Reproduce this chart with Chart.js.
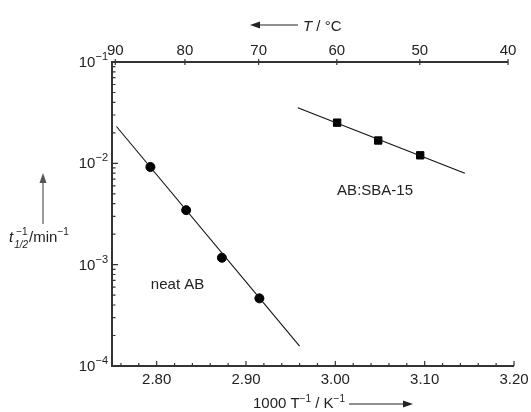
<!DOCTYPE html>
<html><head><meta charset="utf-8">
<script src="https://cdn.jsdelivr.net/npm/chart.js@4.4.1/dist/chart.umd.min.js"></script>
<style>html,body{margin:0;padding:0;background:#fff;}#wrap{width:531px;height:412px;position:relative;}</style>
</head><body><div id="wrap"><canvas id="c" width="531" height="412"></canvas></div>
<script>
// ---- data ----
const neatX = [2.793, 2.833, 2.873, 2.915];          // 1000/T, K^-1  (85, 80, 75, 70 °C)
const neatY = [0.0092, 0.00345, 0.00117, 0.000465];  // t1/2^-1, min^-1
const sbaX = [3.002, 3.048, 3.095];                  // (60, 55, 50 °C)
const sbaY = [0.0252, 0.0168, 0.0120];
const neatFitX = [2.755, 2.960];
const neatFitY = [0.0231, 0.000157];
const sbaFitX = [2.958, 3.145];
const sbaFitY = [0.0354, 0.00798];
const seriesNames = ['neat AB', 'AB:SBA-15'];
// ---- tick labels ----
const xTickLabels = [2.80, 2.90, 3.00, 3.10, 3.20];
const topTickLabels = [90, 80, 70, 60, 50, 40];      // °C
const yTickBase = '10';
const yTickExponents = ['−4', '−3', '−2', '−1'];
const yDecades = [-4, -3, -2, -1];

const FONT = "'Liberation Sans', Arial, Helvetica, sans-serif";
const TXT = '#222';

function pts(xs, ys) { return xs.map((x, i) => ({x: x, y: ys[i]})); }

const decor = {
  id: 'decor',
  afterDraw(chart) {
    const ctx = chart.ctx, a = chart.chartArea;
    const xs = chart.scales.x, xt = chart.scales.xTop, ys = chart.scales.y;
    ctx.save();
    // axis lines
    ctx.strokeStyle = '#333'; ctx.lineWidth = 2;
    const topEnd = xt.getPixelForValue(xt.ticks[xt.ticks.length - 1].value);
    ctx.beginPath();
    ctx.moveTo(topEnd, a.top); ctx.lineTo(a.left, a.top);
    ctx.lineTo(a.left, a.bottom); ctx.lineTo(a.right, a.bottom);
    ctx.stroke();
    // tick marks (inward)
    ctx.lineWidth = 1.2;
    ctx.beginPath();
    ys.ticks.forEach(t => {
      const y = ys.getPixelForValue(t.value);
      const major = Math.abs(Math.log10(t.value) - Math.round(Math.log10(t.value))) < 1e-9;
      ctx.moveTo(a.left, y); ctx.lineTo(a.left + (major ? 6 : 3.5), y);
    });
    xs.ticks.forEach(t => {
      const x = xs.getPixelForValue(t.value);
      const major = xTickLabels.some(v => Math.abs(v - t.value) < 1e-6);
      ctx.moveTo(x, a.bottom); ctx.lineTo(x, a.bottom - (major ? 5 : 3));
    });
    xt.ticks.forEach(t => {
      const x = xt.getPixelForValue(t.value);
      ctx.moveTo(x, a.top - 3); ctx.lineTo(x, a.top + 3);
    });
    ctx.stroke();

    ctx.fillStyle = TXT; ctx.strokeStyle = '#222'; ctx.textBaseline = 'alphabetic'; ctx.textAlign = 'left';
    // y tick labels (10 with superscript exponent)
    yDecades.forEach((e, i) => {
      const y = ys.getPixelForValue(Math.pow(10, e));
      ctx.font = '11px ' + FONT;
      const we = ctx.measureText(yTickExponents[i]).width;
      ctx.font = '15px ' + FONT;
      const wb = ctx.measureText(yTickBase).width;
      const right = a.left - 4;
      ctx.fillText(yTickBase, right - we - wb, y + 5);
      ctx.font = '11px ' + FONT;
      ctx.fillText(yTickExponents[i], right - we, y - 2);
    });
    // bottom title
    let x = 253, base = 408;
    ctx.font = '15px ' + FONT;
    ctx.fillText('1000 T', x, base); x += ctx.measureText('1000 T').width;
    ctx.font = '10px ' + FONT; ctx.fillText('−1', x, base - 6); x += ctx.measureText('−1').width;
    ctx.font = '15px ' + FONT; ctx.fillText(' / K', x, base); x += ctx.measureText(' / K').width;
    ctx.font = '10px ' + FONT; ctx.fillText('−1', x, base - 6); x += ctx.measureText('−1').width;
    arrow(ctx, x + 4, 413, base - 4);
    // top title
    arrow(ctx, 298, 250, 25);
    x = 303; base = 31;
    ctx.font = 'italic 15px ' + FONT; ctx.fillText('T', x, base); x += ctx.measureText('T').width;
    ctx.font = '15px ' + FONT; ctx.fillText(' / °C', x, base);
    // y title
    ctx.strokeStyle = '#555'; ctx.fillStyle = '#555';
    arrow(ctx, 43, 43, 224, 173);
    ctx.fillStyle = TXT;
    x = 9; base = 242;
    ctx.font = 'italic 15px ' + FONT; ctx.fillText('t', x, base); x += ctx.measureText('t').width + 1;
    ctx.font = 'italic 10px ' + FONT; ctx.fillText('1/2', x, base + 6);
    const w12 = ctx.measureText('1/2').width;
    ctx.font = '10px ' + FONT; ctx.fillText('−1', x + 2, base - 7);
    x += w12 + 1;
    ctx.font = '15px ' + FONT; ctx.fillText('/min', x, base); x += ctx.measureText('/min').width;
    ctx.font = '10px ' + FONT; ctx.fillText('−1', x, base - 7);
    // series labels
    ctx.font = '15px ' + FONT;
    ctx.fillText(seriesNames[0], xs.getPixelForValue(2.7935), ys.getPixelForValue(5.8e-4));
    ctx.fillText(seriesNames[1], xs.getPixelForValue(3.002), ys.getPixelForValue(4.85e-3));
    ctx.restore();
  }
};

function arrow(ctx, x1, x2, y1, y2) {
  // arrow from (x1,y1) to head at (x2,y2)
  if (y2 === undefined) y2 = y1;
  const ang = Math.atan2(y2 - y1, x2 - x1);
  ctx.save();
  ctx.lineWidth = 1.2;
  ctx.beginPath(); ctx.moveTo(x1, y1);
  ctx.lineTo(x2 - 8 * Math.cos(ang), y2 - 8 * Math.sin(ang)); ctx.stroke();
  ctx.beginPath();
  ctx.moveTo(x2, y2);
  ctx.lineTo(x2 - 10 * Math.cos(ang) + 3.5 * Math.sin(ang), y2 - 10 * Math.sin(ang) - 3.5 * Math.cos(ang));
  ctx.lineTo(x2 - 10 * Math.cos(ang) - 3.5 * Math.sin(ang), y2 - 10 * Math.sin(ang) + 3.5 * Math.cos(ang));
  ctx.closePath(); ctx.fill();
  ctx.restore();
}

const tickFont = {family: FONT, size: 15};

new Chart(document.getElementById('c'), {
  type: 'scatter',
  data: {
    datasets: [
      {label: seriesNames[0] + ' fit', data: pts(neatFitX, neatFitY), showLine: true, borderColor: '#111', borderWidth: 1.1, pointRadius: 0},
      {label: seriesNames[1] + ' fit', data: pts(sbaFitX, sbaFitY), showLine: true, borderColor: '#111', borderWidth: 1.1, pointRadius: 0},
      {label: seriesNames[0], data: pts(neatX, neatY), pointStyle: 'circle', pointRadius: 4.5, pointBorderWidth: 1, backgroundColor: '#000', borderColor: '#000'},
      {label: seriesNames[1], data: pts(sbaX, sbaY), pointStyle: 'rect', pointRadius: 5.2, pointBorderWidth: 1, backgroundColor: '#000', borderColor: '#000'}
    ]
  },
  options: {
    responsive: false, animation: false,
    layout: {padding: {left: 0, right: 17, top: 0, bottom: 0}},
    plugins: {legend: {display: false}, tooltip: {enabled: false}},
    scales: {
      x: {
        type: 'linear', position: 'bottom', min: 2.75, max: 3.20,
        grid: {display: false}, border: {display: false},
        afterBuildTicks(s) {
          const t = [];
          for (let i = 0; i <= 22; i++) t.push({value: +(2.76 + i * 0.02).toFixed(2)});
          s.ticks = t;
        },
        afterFit(s) { s.height = 46; s.paddingLeft = 0; s.paddingRight = 0; },
        ticks: {
          autoSkip: false, maxRotation: 0, padding: -3, color: TXT, font: tickFont,
          callback(v) { const m = xTickLabels.find(l => Math.abs(l - v) < 1e-6); return m === undefined ? '' : m.toFixed(2); }
        }
      },
      xTop: {
        type: 'linear', position: 'top', min: 2.75, max: 3.20,
        grid: {display: false}, border: {display: false},
        afterBuildTicks(s) { s.ticks = topTickLabels.map(T => ({value: 1000 / (T + 273.15)})); },
        afterFit(s) { s.height = 62; s.paddingLeft = 0; s.paddingRight = 0; },
        ticks: {
          autoSkip: false, maxRotation: 0, padding: -6, color: TXT, font: tickFont,
          callback(v, i) { return String(topTickLabels[i]); }
        }
      },
      y: {
        type: 'logarithmic', position: 'left', min: 1e-4, max: 1e-1,
        grid: {display: false}, border: {display: false},
        afterBuildTicks(s) {
          const t = [];
          yDecades.forEach(e => {
            const mMax = e === -1 ? 1 : 9;
            for (let m = 1; m <= mMax; m++) t.push({value: m * Math.pow(10, e)});
          });
          s.ticks = t;
        },
        afterFit(s) { s.width = 112; s.paddingTop = 0; s.paddingBottom = 0; },
        ticks: {display: false, autoSkip: false}
      }
    }
  },
  plugins: [decor]
});
</script></body></html>
